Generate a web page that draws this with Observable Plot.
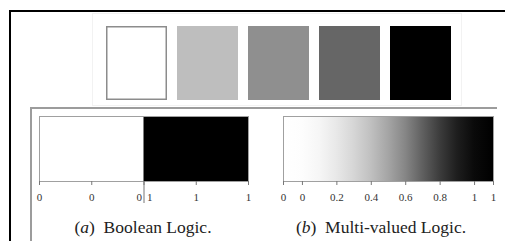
<!DOCTYPE html>
<html>
<head>
<meta charset="utf-8">
<script src="https://cdn.jsdelivr.net/npm/d3@7"></script>
<script src="https://cdn.jsdelivr.net/npm/@observablehq/plot@0.6"></script>
<style>
  html, body { margin: 0; padding: 0; background: #fff; }
  #wrap { position: relative; width: 505px; height: 241px; overflow: hidden; background: #fff;
          font-family: "Liberation Serif", "DejaVu Serif", serif; }
  #wrap > * { position: absolute; }
  .cap { font-family: "Liberation Serif", "Times New Roman", serif; font-size: 17.5px; color: #222;
         white-space: nowrap; text-align: center; width: 220px; line-height: 20px; }
</style>
</head>
<body>
<div id="wrap"></div>
<script>
// ---- data ----
const swatchNames = ["s1", "s2", "s3", "s4", "s5"];
const swatchGreys = ["#ffffff", "#bebebe", "#8f8f8f", "#666666", "#000000"];

const boolStarts = [0, 0.5];
const boolEnds = [0.5, 1];
const boolFills = ["#ffffff", "#000000"];
const boolTicks = [0, 0.25, 0.5, 0.75, 1];
const boolLabelAt = [0, 0.25, 0.5, 0.5, 0.75, 1];
const boolLabels = ["0", "0", "0", "1", "1", "1"];
const boolLabelSide = ["middle", "middle", "end", "start", "middle", "middle"];

const multiDomain = [-0.11, 1.11];
const multiTicks = [-0.11, 0, 0.2, 0.4, 0.6, 0.8, 1, 1.11];
const multiLabels = ["0", "0", "0.2", "0.4", "0.6", "0.8", "1", "1"];
const gradAt = [-0.11, 0, 0.1, 0.2, 0.3, 0.4, 0.5, 0.6, 0.7, 0.8, 0.9, 1, 1.11];
const gradGreys = ["#ffffff", "#fdfdfd", "#f6f6f6", "#e8e8e8", "#d6d6d6", "#c0c0c0", "#a5a5a5",
                   "#868686", "#606060", "#3c3c3c", "#1e1e1e", "#0a0a0a", "#000000"];

const captionLetters = ["a", "b"];
const captionTexts = ["Boolean Logic.", "Multi-valued Logic."];

// ---- layout ----
const W = 505, H = 241;
const wrap = document.getElementById("wrap");
function addDiv(style, html) {
  const d = document.createElement("div");
  Object.assign(d.style, style);
  if (html) d.innerHTML = html;
  wrap.appendChild(d);
  return d;
}
function addPlot(p) { p.style.position = "absolute"; p.style.left = "0px"; p.style.top = "0px"; wrap.appendChild(p); return p; }

// decorative frame lines of the scanned figure
addDiv({left: "92px", top: "13px", width: "368px", height: "91px", border: "1px solid #f2f2f2"});
addDiv({left: "10px", top: "10px", width: "495px", height: "2px", background: "#000"});
addDiv({left: "9px", top: "10px", width: "2px", height: "231px", background: "#000"});
addDiv({left: "30px", top: "107px", width: "467px", height: "2px", background: "#9c9c9c"});
addDiv({left: "30px", top: "107px", width: "2px", height: "134px", background: "#9c9c9c"});

const font = {fontFamily: "Liberation Serif, serif", background: "transparent", overflow: "visible"};

// top swatches
addPlot(Plot.plot({
  width: W, height: 100, marginTop: 26, marginBottom: 0, marginLeft: 105, marginRight: W - 453,
  style: font,
  x: {type: "band", domain: swatchNames, paddingInner: 0.14, paddingOuter: 0, axis: null},
  color: {type: "identity"},
  marks: [
    Plot.cell(swatchNames, {x: d => d, fill: (d, i) => swatchGreys[i]}),
    Plot.cell(swatchNames.slice(0, 1), {x: d => d, fill: "none", stroke: "#8c8c8c", strokeWidth: 1.5, inset: 0.75})
  ]
}));

// (a) Boolean logic bar
const boolRects = boolStarts.map((s, i) => ({x1: s, x2: boolEnds[i], fill: boolFills[i]}));
const boolLabelRows = boolLabels.map((t, i) => ({x: boolLabelAt[i], text: t, side: boolLabelSide[i]}));
addPlot(Plot.plot({
  width: W, height: H, marginLeft: 39, marginRight: W - 248, marginTop: 116, marginBottom: H - 181,
  style: font,
  x: {domain: [0, 1]},
  color: {type: "identity"},
  marks: [
    Plot.rect(boolRects, {x1: "x1", x2: "x2", fill: "fill"}),
    Plot.frame({stroke: "#a0a0a0"}),
    Plot.axisX({ticks: boolTicks, tickSize: 4, tickFormat: () => "", stroke: "#777"}),
    Plot.axisX({ticks: [0.5], tickSize: 22, tickFormat: () => "", stroke: "#777"}),
    ...["middle", "end", "start"].map(side => Plot.text(boolLabelRows.filter(r => r.side === side), {
      x: "x", text: "text", frameAnchor: "bottom", dy: 19,
      dx: side === "end" ? -2 : side === "start" ? 3 : 0,
      textAnchor: side, fontSize: 11, fill: "#333"
    }))
  ]
}));

// (b) Multi-valued logic bar
const multiBar = [{x1: multiDomain[0], x2: multiDomain[1]}];
const multiLabelRows = multiLabels.map((t, i) => ({x: multiTicks[i], text: t}));
const multiPlot = addPlot(Plot.plot({
  width: W, height: H, marginLeft: 283, marginRight: W - 493, marginTop: 116, marginBottom: H - 181,
  style: font,
  x: {domain: multiDomain},
  marks: [
    Plot.rect(multiBar, {x1: "x1", x2: "x2", fill: "url(#mvGrad)"}),
    Plot.frame({stroke: "#a0a0a0"}),
    Plot.axisX({ticks: multiTicks, tickSize: 4, tickFormat: () => "", stroke: "#777"}),
    Plot.text(multiLabelRows, {x: "x", text: "text", frameAnchor: "bottom", dy: 19, fontSize: 11, fill: "#333"})
  ]
}));
const grad = d3.select(multiPlot).insert("defs", ":first-child")
  .append("linearGradient").attr("id", "mvGrad")
  .attr("x1", "0").attr("x2", "1").attr("y1", "0").attr("y2", "0");
gradAt.forEach((v, i) => grad.append("stop")
  .attr("offset", (v - multiDomain[0]) / (multiDomain[1] - multiDomain[0]))
  .attr("stop-color", gradGreys[i]));

// captions
const capLeft = [33, 271];
captionLetters.forEach((l, i) => {
  const d = addDiv({left: capLeft[i] + "px", top: "217px"});
  d.className = "cap";
  d.innerHTML = "(<i>" + l + "</i>)&nbsp; " + captionTexts[i];
});
</script>
</body>
</html>
